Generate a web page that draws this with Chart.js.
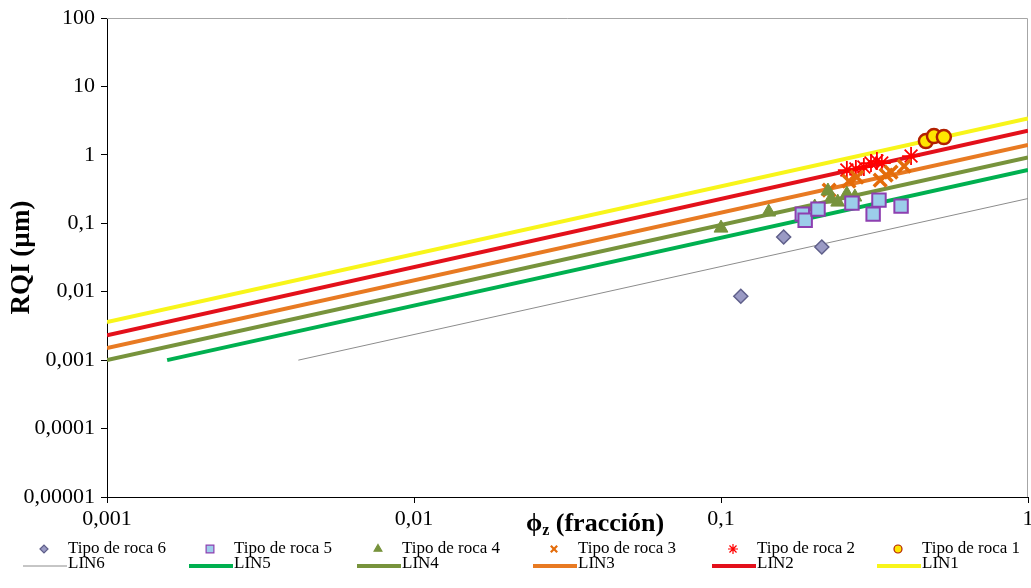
<!DOCTYPE html>
<html>
<head>
<meta charset="utf-8">
<script src="https://cdn.jsdelivr.net/npm/chart.js@4"></script>
<style>
  html, body { margin: 0; padding: 0; background: #fff; }
</style>
</head>
<body>
<canvas id="chart" width="1031" height="588"></canvas>
<script>
// ticks
const xTicks = [0.001, 0.01, 0.1, 1]
const xTickLabels = ['0,001', '0,01', '0,1', '1']
const yTicks = [0.00001, 0.0001, 0.001, 0.01, 0.1, 1, 10, 100]
const yTickLabels = ['0,00001', '0,0001', '0,001', '0,01', '0,1', '1', '10', '100']

// rock types (phi_z, RQI)
const roca6X = [0.116, 0.160, 0.213]
const roca6Y = [0.0086, 0.063, 0.045]
const roca5X = [0.184, 0.188, 0.207, 0.267, 0.313, 0.327, 0.386]
const roca5Y = [0.136, 0.111, 0.161, 0.197, 0.136, 0.218, 0.178]
const roca4X = [0.100, 0.143, 0.202, 0.223, 0.228, 0.240, 0.257, 0.273]
const roca4Y = [0.085, 0.146, 0.173, 0.296, 0.226, 0.204, 0.267, 0.242]
const roca3X = [0.225, 0.261, 0.277, 0.330, 0.345, 0.358, 0.395]
const roca3Y = [0.306, 0.414, 0.473, 0.428, 0.507, 0.560, 0.686]
const roca2X = [0.257, 0.275, 0.292, 0.308, 0.322, 0.334, 0.416]
const roca2Y = [0.600, 0.620, 0.663, 0.759, 0.812, 0.759, 0.96]
const roca1X = [0.465, 0.494, 0.532]
const roca1Y = [1.59, 1.88, 1.82]

// FZI lines (end points)
const lin6X = [0.0042, 1]
const lin6Y = [0.001, 0.23]
const lin5X = [0.00157, 1]
const lin5Y = [0.001, 0.6]
const lin4X = [0.001, 1]
const lin4Y = [0.001, 0.92]
const lin3X = [0.001, 1]
const lin3Y = [0.0015, 1.4]
const lin2X = [0.001, 1]
const lin2Y = [0.0023, 2.25]
const lin1X = [0.001, 1]
const lin1Y = [0.0036, 3.4]

const legendX = [68, 234, 402, 578, 757, 922]
const legendY = [549, 564]

function pts(xs, ys) {
    return xs.map((x, i) => ({ x: x, y: ys[i] }))
}

function rock(label, xs, ys, style, fill, border, radius, bw, legendRadius) {
    return {
        label: label,
        data: pts(xs, ys),
        showLine: false,
        pointStyle: style,
        backgroundColor: fill,
        borderColor: border,
        pointRadius: radius,
        pointBorderWidth: bw,
        legendRadius: legendRadius
    }
}

function line(label, xs, ys, color, width) {
    return {
        label: label,
        data: pts(xs, ys),
        showLine: true,
        borderColor: color,
        backgroundColor: color,
        borderWidth: width,
        pointRadius: 0,
        fill: false
    }
}

const datasets = [
    rock('Tipo de roca 6', roca6X, roca6Y, 'rectRot', '#9a9ac4', '#5f5f8a', 7, 1.5, 4),
    rock('Tipo de roca 5', roca5X, roca5Y, 'rect', '#9ccdea', '#8d3fb0', 9.5, 2, 5.5),
    rock('Tipo de roca 4', roca4X, roca4Y, 'triangle', '#77933c', '#77933c', 8, 1, 4.5),
    rock('Tipo de roca 3', roca3X, roca3Y, 'crossRot', '#e46c0a', '#e46c0a', 9, 3.5, 4.5),
    rock('Tipo de roca 2', roca2X, roca2Y, 'star', '#ff0000', '#ff0000', 9, 1.8, 5),
    rock('Tipo de roca 1', roca1X, roca1Y, 'circle', '#ffe600', '#b22000', 7, 2.5, 4),
    line('LIN6', lin6X, lin6Y, '#8c8c8c', 1),
    line('LIN5', lin5X, lin5Y, '#00b050', 4),
    line('LIN4', lin4X, lin4Y, '#77933c', 4),
    line('LIN3', lin3X, lin3Y, '#e87a22', 4),
    line('LIN2', lin2X, lin2Y, '#e3101b', 4),
    line('LIN1', lin1X, lin1Y, '#f8f51a', 4)
]

const framePlugin = {
    id: 'frame',
    beforeDatasetsDraw(chart) {
        const a = chart.chartArea
        const ctx = chart.ctx
        ctx.save()
        ctx.strokeStyle = '#a6a6a6'
        ctx.lineWidth = 1
        ctx.beginPath()
        ctx.moveTo(a.left, a.top + 0.5)
        ctx.lineTo(a.right - 0.5, a.top + 0.5)
        ctx.lineTo(a.right - 0.5, a.bottom)
        ctx.stroke()
        ctx.restore()
    }
}

const textPlugin = {
    id: 'texts',
    afterDraw(chart) {
        const ctx = chart.ctx
        ctx.save()
        ctx.fillStyle = '#000'
        ctx.textBaseline = 'alphabetic'

        // x axis title: phi_z (fracción)
        const big = 'bold 26px "Liberation Serif", "DejaVu Serif", serif'
        const small = 'bold 16px "Liberation Serif", "DejaVu Serif", serif'
        ctx.font = big
        const w1 = ctx.measureText('\u03D5').width
        const w3 = ctx.measureText(' (fracción)').width
        ctx.font = small
        const w2 = ctx.measureText('z').width
        let x = 595 - (w1 + w2 + w3) / 2
        const base = 531
        ctx.font = big
        ctx.fillText('\u03D5', x, base)
        x += w1
        ctx.font = small
        ctx.fillText('z', x, base + 4)
        x += w2
        ctx.font = big
        ctx.fillText(' (fracción)', x, base)

        // legend, two rows of six
        ctx.font = '17px "Liberation Serif", serif'
        ctx.textBaseline = 'middle'
        chart.data.datasets.forEach((ds, i) => {
            const col = i % 6
            const row = Math.floor(i / 6)
            const tx = legendX[col]
            const ty = legendY[row]
            if (row === 0) {
                ctx.fillStyle = ds.backgroundColor
                ctx.strokeStyle = ds.borderColor
                ctx.lineWidth = ds.pointStyle === 'crossRot' ? 2.2 : 1.2
                Chart.helpers.drawPoint(ctx, {
                    pointStyle: ds.pointStyle,
                    radius: ds.legendRadius,
                    borderWidth: 1,
                    rotation: 0
                }, tx - 24, ty)
            } else {
                ctx.strokeStyle = ds.borderColor
                ctx.lineWidth = ds.borderWidth
                ctx.beginPath()
                ctx.moveTo(tx - 45, ty + 2)
                ctx.lineTo(tx - 1, ty + 2)
                ctx.stroke()
            }
            ctx.fillStyle = '#000'
            ctx.fillText(ds.label, tx, ty)
        })
        ctx.restore()
    }
}

const tickFont = { family: '"Liberation Serif", serif', size: 22 }

const config = {
    type: 'scatter',
    data: { datasets: datasets },
    options: {
        responsive: false,
        animation: false,
        layout: { autoPadding: false, padding: { left: 0, top: 18, right: 3, bottom: 0 } },
        plugins: {
            legend: { display: false },
            tooltip: { enabled: false }
        },
        scales: {
            x: {
                type: 'logarithmic',
                min: 0.001,
                max: 1,
                afterBuildTicks: (scale) => {
                    scale.ticks = xTicks.map(v => ({ value: v }))
                },
                afterFit: (scale) => {
                    scale.height = 91
                    scale.paddingLeft = 0
                    scale.paddingRight = 0
                },
                ticks: {
                    autoSkip: false,
                    maxRotation: 0,
                    padding: 3,
                    color: '#000',
                    font: tickFont,
                    callback: (v) => xTickLabels[xTicks.indexOf(v)]
                },
                grid: {
                    drawOnChartArea: false,
                    drawTicks: true,
                    tickLength: 6,
                    color: '#000'
                },
                border: { display: true, color: '#000', width: 1 }
            },
            y: {
                type: 'logarithmic',
                min: 0.00001,
                max: 100,
                afterBuildTicks: (scale) => {
                    scale.ticks = yTicks.map(v => ({ value: v }))
                },
                afterFit: (scale) => {
                    scale.width = 107
                    scale.paddingTop = 0
                    scale.paddingBottom = 0
                },
                ticks: {
                    autoSkip: false,
                    padding: 6,
                    color: '#000',
                    font: tickFont,
                    callback: (v) => yTickLabels[yTicks.indexOf(v)]
                },
                grid: {
                    drawOnChartArea: false,
                    drawTicks: true,
                    tickLength: 6,
                    color: '#000'
                },
                border: { display: true, color: '#000', width: 1 },
                title: {
                    display: true,
                    text: 'RQI (µm)',
                    color: '#000',
                    font: { family: '"Liberation Serif", serif', size: 27, weight: 'bold' },
                    padding: { top: 6, bottom: 0 }
                }
            }
        }
    },
    plugins: [framePlugin, textPlugin]
}

const myChart = new Chart(document.querySelector('#chart'), config)
</script>
</body>
</html>
